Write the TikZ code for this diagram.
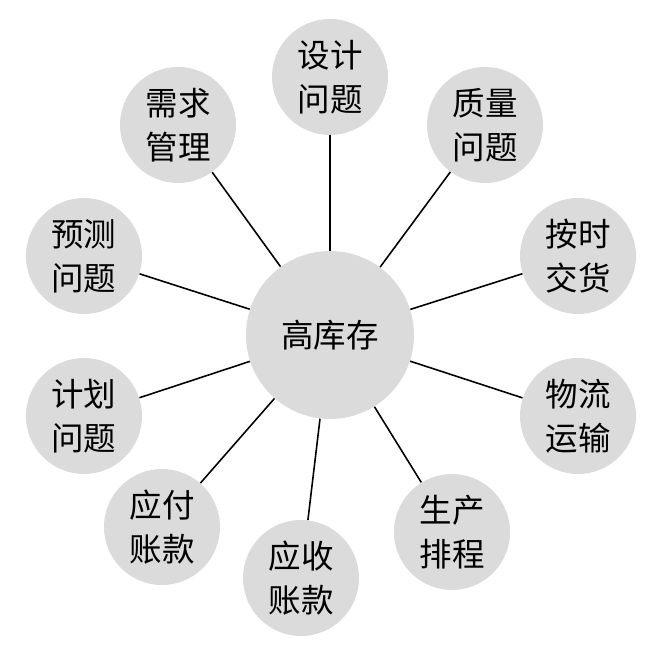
\documentclass[tikz,border=0pt]{standalone}
\usepackage{fontspec}
\newfontfamily\cjk{Noto Sans CJK SC}
\usepackage{tikz}

\begin{document}
\begin{tikzpicture}[
    font=\cjk\fontsize{18.5pt}{25pt}\selectfont,
    hub/.style={circle, fill=black!14, minimum size=3.36cm, inner sep=0pt, align=center},
    cause/.style={circle, fill=black!14, minimum size=2.32cm, inner sep=0pt, align=center},
    link/.style={line width=0.9pt, draw=black}
]
    \useasboundingbox (-6.6, 6.7) rectangle (6.32, -6.24);

    % Noeud central
    \node[hub] (stock) at (0, 0) {高库存};

    % Causes autour
    \node[cause] (design) at (0, 5.16) {设计\\问题};
    \node[cause] (demand) at (-3.04, 4.2) {需求\\管理};
    \node[cause] (quality) at (3.1, 4.2) {质量\\问题};
    \node[cause] (forecast) at (-4.92, 1.58) {预测\\问题};
    \node[cause] (ontime) at (4.96, 1.58) {按时\\交货};
    \node[cause] (plan) at (-4.92, -1.62) {计划\\问题};
    \node[cause] (logistics) at (4.96, -1.62) {物流\\运输};
    \node[cause] (payable) at (-3.36, -3.84) {应付\\账款};
    \node[cause] (receivable) at (-0.58, -4.86) {应收\\账款};
    \node[cause] (schedule) at (2.44, -3.94) {生产\\排程};

    % Liaisons
    \foreach \n in {design, demand, quality, forecast, ontime, plan, logistics, payable, receivable, schedule}
        \draw[link] (stock) -- (\n);

\end{tikzpicture}
\end{document}
